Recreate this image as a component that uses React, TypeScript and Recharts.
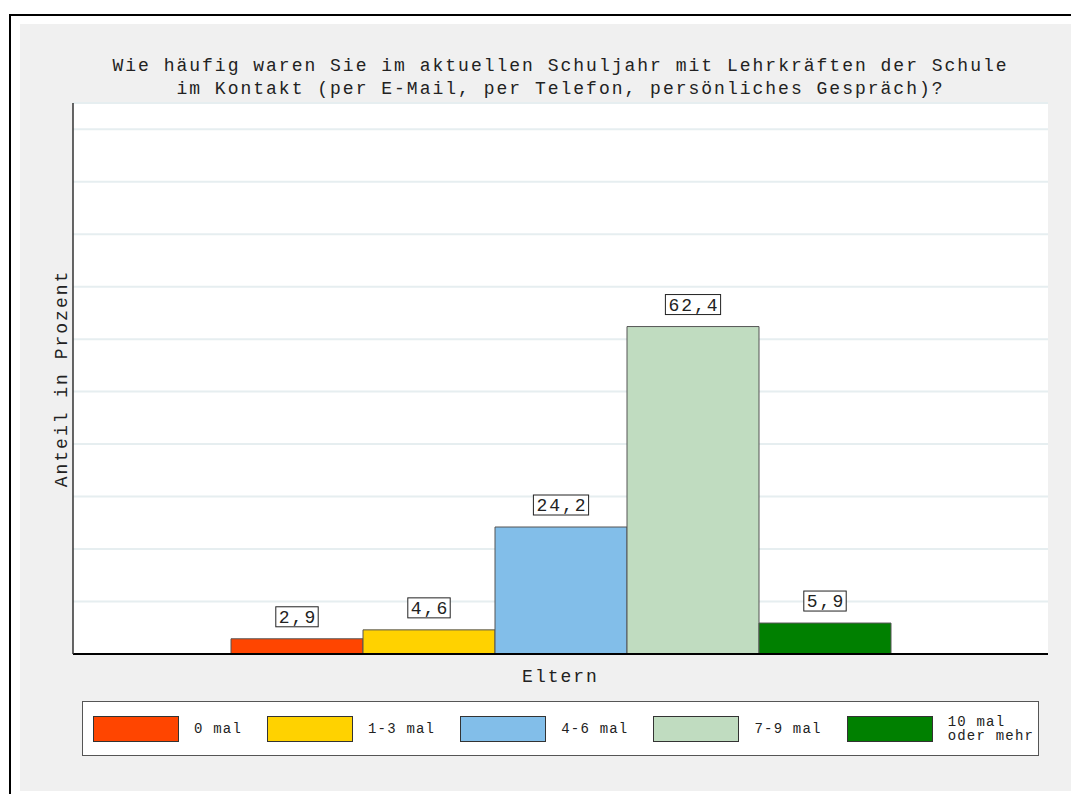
import React from "react";
import { BarChart, Bar, XAxis, YAxis, CartesianGrid, Legend, LabelList } from "recharts";

const categories = ["Eltern"];
const seriesKeys = ["s0", "s1", "s2", "s3", "s4"];
const seriesNames = ["0 mal", "1-3 mal", "4-6 mal", "7-9 mal", "10 mal\noder mehr"];
const seriesValues = [2.9, 4.6, 24.2, 62.4, 5.9];
const seriesColors = ["#ff4500", "#ffd200", "#82bee9", "#c0dcc0", "#008000"];
const yTicks = [0, 10, 20, 30, 40, 50, 60, 70, 80, 90, 100];

const titleLines = [
  "Wie häufig waren Sie im aktuellen Schuljahr mit Lehrkräften der Schule",
  "im Kontakt (per E-Mail, per Telefon, persönliches Gespräch)?",
];

const data = categories.map((name) => {
  const row: Record<string, string | number> = { name };
  seriesKeys.forEach((k, i) => {
    row[k] = seriesValues[i];
  });
  return row;
});

const mono = "'Liberation Mono', 'Courier New', monospace";
const textColor = "#222";

function fmt(v: number): string {
  return v.toFixed(1).replace(".", ",");
}

function BoxLabel(props: any) {
  const { x, y, width, value } = props;
  const cx = Number(x) + Number(width) / 2;
  const label = fmt(Number(value));
  const w = label.length * 12.8 + 4;
  const bottom = Number(y) - 12;
  return (
    <g>
      <rect x={cx - w / 2} y={bottom - 20} width={w} height={20} fill="#fff" stroke="#222" strokeWidth={1} />
      <text
        x={cx + 1}
        y={bottom - 4}
        textAnchor="middle"
        fontFamily={mono}
        fontSize={18}
        letterSpacing={2}
        fill={textColor}
      >
        {label}
      </text>
    </g>
  );
}

function LegendBox() {
  return (
    <div
      style={{
        width: 957,
        height: 55,
        boxSizing: "border-box",
        border: "1.5px solid #555",
        background: "#fff",
        display: "flex",
        alignItems: "center",
        paddingLeft: 10,
      }}
    >
      {seriesKeys.map((k, i) => (
        <div key={k} style={{ display: "flex", alignItems: "center", marginRight: 25, flexShrink: 0 }}>
          <div
            style={{
              width: 86,
              height: 26,
              background: seriesColors[i],
              border: "1px solid #333",
              boxSizing: "border-box",
              flexShrink: 0,
            }}
          />
          <div
            style={{
              marginLeft: 15,
              fontFamily: mono,
              fontSize: 14,
              letterSpacing: 1.2,
              lineHeight: "14px",
              color: textColor,
              whiteSpace: "pre",
            }}
          >
            {seriesNames[i]}
          </div>
        </div>
      ))}
    </div>
  );
}

export default function App() {
  return (
    <div
      style={{
        position: "absolute",
        left: 0,
        top: 0,
        width: 1071,
        height: 794,
        background: "#fff",
        overflow: "hidden",
      }}
    >
      <div
        style={{
          position: "absolute",
          left: 9,
          top: 14,
          width: 1062,
          height: 780,
          borderLeft: "2px solid #000",
          borderTop: "2px solid #000",
          boxSizing: "border-box",
        }}
      />
      <div
        style={{
          position: "absolute",
          left: 20,
          top: 24,
          width: 1051,
          height: 767,
          background: "#f0f0f0",
        }}
      />
      <div
        style={{
          position: "absolute",
          left: 73,
          top: 55,
          width: 975,
          textAlign: "center",
          fontFamily: mono,
          fontSize: 18,
          letterSpacing: 2,
          lineHeight: "23px",
          color: textColor,
        }}
      >
        {titleLines.map((t) => (
          <div key={t}>{t}</div>
        ))}
      </div>
      <div style={{ position: "absolute", left: 0, top: 0 }}>
        <BarChart
          width={1071}
          height={794}
          data={data}
          margin={{ top: 103, right: 23, bottom: 110, left: 72 }}
          barCategoryGap={158}
          barGap={0}
          style={{ fontFamily: mono }}
        >
          <CartesianGrid vertical={false} fill="#fff" stroke="#e6eef0" strokeWidth={2} />
          <XAxis
            dataKey="name"
            height={30}
            tickLine={false}
            tickMargin={9}
            axisLine={{ stroke: "#000", strokeWidth: 2 }}
            tick={{ fontSize: 18, fontFamily: mono, fill: textColor, letterSpacing: 2 }}
          />
          <YAxis
            width={1}
            domain={[0, 105]}
            ticks={yTicks}
            tick={() => <g />}
            tickLine={false}
            axisLine={{ stroke: "#333", strokeWidth: 1.5 }}
            label={{
              value: "Anteil in Prozent",
              angle: -90,
              position: "left",
              offset: 11,
              textAnchor: "middle",
              fontSize: 18,
              fontFamily: mono,
              letterSpacing: 2,
              fill: textColor,
            }}
          />
          <Legend
            layout="vertical"
            align="center"
            verticalAlign="middle"
            wrapperStyle={{ left: 82, top: 701, width: 957 }}
            content={<LegendBox />}
          />
          {seriesKeys.map((k, i) => (
            <Bar
              key={k}
              dataKey={k}
              name={seriesNames[i]}
              fill={seriesColors[i]}
              stroke="#555"
              strokeWidth={1}
              isAnimationActive={false}
            >
              <LabelList dataKey={k} content={<BoxLabel />} />
            </Bar>
          ))}
        </BarChart>
      </div>
    </div>
  );
}
